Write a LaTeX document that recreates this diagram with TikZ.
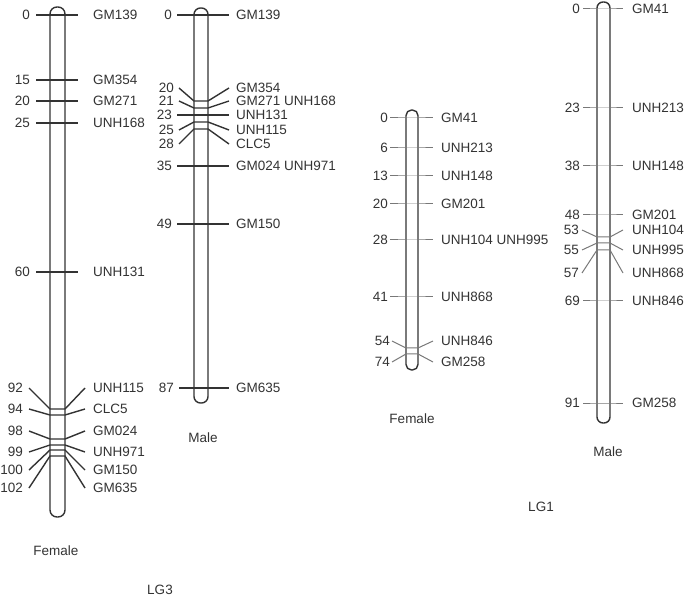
\documentclass[tikz,border=0pt]{standalone}
\usepackage{fontspec}
\setmainfont{Liberation Sans}
\usepackage{tikz}
\definecolor{ink}{rgb}{0.2,0.2,0.2}
\definecolor{lite}{rgb}{0.47,0.47,0.47}
\tikzstyle{every node}=[text=ink,font=\fontsize{13.5}{15}\selectfont]
\tikzstyle{num}=[anchor=east,inner sep=0pt]
\tikzstyle{mname}=[anchor=west,inner sep=0pt]
\tikzstyle{chrom}=[draw=ink,line width=1.4pt]
\tikzstyle{dark tick}=[draw=ink,line width=1.4pt]
\tikzstyle{light tick}=[draw=lite,line width=1pt]
% marker: id, left end, right end, y on chromosome, y of label, cM, name
\newcommand{\mk}[7]{%
\coordinate (#1a) at (#2,#5);
\coordinate (#1b) at (\edgel,#4);
\coordinate (#1c) at (\edger,#4);
\coordinate (#1d) at (#3,#5);
\draw[tickstyle] (#1a) -- (#1b) -- (#1c) -- (#1d);
\node[num] (#1n) at ([xshift=-\gap pt]#1a) {#6};
\node[mname] (#1m) at (\namex,#5) {#7};
}

\begin{document}
\begin{tikzpicture}[x=1pt,y=-1pt]
\useasboundingbox (0,0) rectangle (685,601);

% LG3 female
\tikzset{tickstyle/.style={dark tick}}
\def\edgel{50}\def\edger{65}\def\namex{93}\def\gap{6}
\draw[chrom,rounded corners=7pt] (50,517) rectangle (65,7);
\mk{fgmi}{36}{78}{15}{15}{0}{GM139}
\mk{fgmii}{36}{78}{80}{80}{15}{GM354}
\mk{fgmiii}{36}{78}{101}{101}{20}{GM271}
\mk{funhi}{36}{78}{123}{123}{25}{UNH168}
\mk{funhii}{36}{78}{272}{272}{60}{UNH131}
\mk{funhiii}{29}{85}{409}{388}{92}{UNH115}
\mk{fclc}{29}{85}{415}{409}{94}{CLC5}
\mk{fgmiv}{29}{85}{439}{431}{98}{GM024}
\mk{funhiv}{29}{85}{445}{452}{99}{UNH971}
\mk{fgmv}{29}{85}{450}{470}{100}{GM150}
\mk{fgmvi}{29}{85}{456}{488}{102}{GM635}
\node (femthree) at (56,551) {Female};

% LG3 male
\def\edgel{194}\def\edger{208}\def\namex{236}\def\gap{5}
\draw[chrom,rounded corners=6.5pt] (194,403) rectangle (208,8);
\mk{mgmi}{177}{229}{15}{15}{0}{GM139}
\mk{mgmii}{179}{229}{101}{88}{20}{GM354}
\mk{mgmiii}{179}{229}{108}{101}{21}{GM271 UNH168}
\mk{munhi}{177}{229}{115}{115}{23}{UNH131}
\mk{munhii}{179}{229}{122}{130}{25}{UNH115}
\mk{mclc}{179}{229}{129}{144}{28}{CLC5}
\mk{mgmiv}{177}{229}{166}{166}{35}{GM024 UNH971}
\mk{mgmv}{177}{229}{224}{224}{49}{GM150}
\mk{mgmvi}{179}{229}{388}{388}{87}{GM635}
\node (malethree) at (203,438) {Male};

\node (lgthree) at (160,590) {LG3};

% LG1 female
\tikzset{tickstyle/.style={light tick}}
\def\edgel{406}\def\edger{418}\def\namex{441}\def\gap{2}
\draw[chrom,rounded corners=5.5pt] (406,370) rectangle (418,110);
\mk{pgmi}{390}{433}{118}{118}{0}{GM41}
\mk{punhi}{390}{433}{148}{148}{6}{UNH213}
\mk{punhii}{390}{433}{176}{176}{13}{UNH148}
\mk{pgmii}{390}{433}{204}{204}{20}{GM201}
\mk{punhiii}{390}{433}{240}{240}{28}{UNH104 UNH995}
\mk{punhiv}{390}{433}{297}{297}{41}{UNH868}
\mk{punhv}{392}{433}{348}{341}{54}{UNH846}
\mk{pgmiii}{392}{433}{354}{362}{74}{GM258}
\node (femone) at (412,419) {Female};

% LG1 male
\def\edgel{597}\def\edger{610}\def\namex{632}\def\gap{3}
\draw[chrom,rounded corners=6pt] (597,423) rectangle (610,2);
\mk{qgmi}{583}{623}{9}{9}{0}{GM41}
\mk{qunhi}{583}{623}{108}{108}{23}{UNH213}
\mk{qunhii}{583}{623}{166}{166}{38}{UNH148}
\mk{qgmii}{583}{623}{215}{215}{48}{GM201}
\mk{qunhiii}{582}{623}{237}{230}{53}{UNH104}
\mk{qunhiv}{582}{623}{243}{250}{55}{UNH995}
\mk{qunhv}{582}{623}{250}{273}{57}{UNH868}
\mk{qunhvi}{583}{623}{301}{301}{69}{UNH846}
\mk{qgmiii}{583}{623}{403}{403}{91}{GM258}
\node (maleone) at (608,452) {Male};

\node (lgone) at (541,507) {LG1};
\end{tikzpicture}
\end{document}
